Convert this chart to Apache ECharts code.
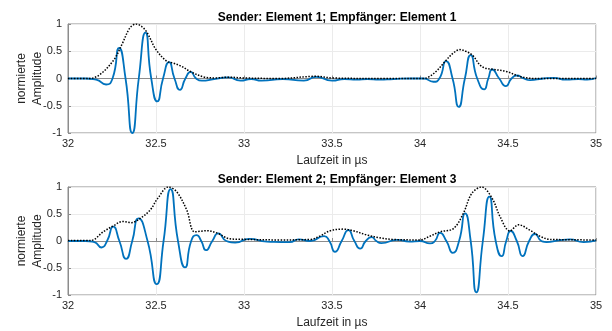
<!DOCTYPE html>
<html>
<head>
<meta charset="utf-8">
<script src="https://cdn.jsdelivr.net/npm/echarts@6/dist/echarts.min.js"></script>
<style>
body{margin:0;background:#fff}
#chart{width:612px;height:331px}
</style>
</head>
<body>
<div id="chart"></div>
<script>
var titles = ['Sender: Element 1; Empfänger: Element 1', 'Sender: Element 2; Empfänger: Element 3'];
var xName = 'Laufzeit in µs';
var yName = 'normierte\nAmplitude';

// oben: Signal (blau) und Einhüllende (schwarz gepunktet)
var signal1 = [[32,0],[32.10,0],[32.16,-0.02],[32.216,-0.11],[32.253,0],[32.29,0.56],[32.327,0],[32.365,-1.0],[32.402,0],
    [32.44,0.84],[32.473,0],[32.507,-0.42],[32.54,0],[32.574,0.30],[32.605,0],[32.636,-0.21],[32.667,0],[32.697,0.12],
    [32.728,0],[32.76,-0.04],[32.83,-0.01],[32.91,0.02],[32.98,-0.04],[33.04,-0.01],
    [33.10,-0.04],[33.22,-0.01],[33.34,-0.04],[33.41,0.03],[33.50,-0.04],[33.57,-0.01],[33.64,-0.02],[33.70,-0.01],
    [33.77,-0.02],[33.85,-0.01],[33.95,0],[34.02,0],[34.076,-0.06],[34.11,0],[34.148,0.32],[34.185,0],[34.22,-0.52],
    [34.255,0],[34.288,0.43],[34.325,0],[34.364,-0.20],[34.388,0],[34.41,0.165],[34.45,0],[34.487,-0.14],[34.52,0],
    [34.55,0.055],[34.59,0],[34.625,-0.03],[34.70,0],[34.76,0.01],[34.83,-0.02],
    [34.90,-0.01],[34.95,-0.02],[35,0.01]];
var envelope1 = [[32,0],[32.12,0],[32.18,0.07],[32.26,0.34],[32.31,0.65],[32.35,0.92],[32.386,1.0],[32.42,0.95],
    [32.45,0.84],[32.50,0.53],[32.56,0.32],[32.60,0.28],[32.64,0.23],[32.70,0.12],[32.77,0.03],[32.84,0.01],
    [32.91,0.025],[33.0,0.01],[33.2,0],[33.41,0.04],[33.5,0.01],[33.8,0],[34.02,0],[34.05,0.03],[34.095,0.14],
    [34.15,0.34],[34.19,0.47],[34.227,0.53],[34.26,0.50],[34.30,0.42],[34.34,0.25],[34.37,0.19],[34.41,0.17],
    [34.49,0.13],[34.57,0.035],[34.65,0],[35,0]];

// unten
var signal2 = [[32,0],[32.10,0],[32.15,-0.02],[32.19,-0.12],[32.222,0],[32.257,0.265],[32.292,0],[32.33,-0.33],[32.365,0],
    [32.40,0.42],[32.452,0],[32.504,-0.80],[32.543,0],[32.583,0.96],[32.625,0],[32.665,-0.49],[32.70,0],[32.73,0.11],
    [32.757,0],[32.784,-0.17],[32.82,0],[32.854,0.14],[32.90,0],[32.95,-0.03],[33.03,0.04],[33.13,-0.01],
    [33.26,-0.02],[33.31,0.03],[33.375,0],[33.455,0.09],[33.485,0],[33.517,-0.20],[33.555,0],[33.593,0.20],[33.627,0],
    [33.66,-0.14],[33.692,0],[33.725,0.07],[33.752,0],[33.78,-0.04],[33.87,0.02],[33.94,-0.01],[34.0,0],[34.057,-0.045],
    [34.085,0],[34.114,0.15],[34.15,0],[34.186,-0.22],[34.222,0],[34.256,0.51],[34.288,0],[34.32,-0.95],[34.357,0],
    [34.394,0.82],[34.43,0],[34.464,-0.28],[34.49,0],[34.515,0.185],[34.55,0],[34.583,-0.28],[34.62,0],[34.653,0.13],
    [34.69,0],[34.72,-0.02],[34.786,0.01],[34.85,0.03],[34.93,-0.02],[35,0.01]];
var envelope2 = [[32,0.01],[32.13,0.01],[32.20,0.17],[32.257,0.28],[32.31,0.36],[32.36,0.34],[32.41,0.42],[32.466,0.57],
    [32.51,0.79],[32.57,1.0],[32.618,0.91],[32.675,0.57],[32.72,0.17],[32.79,0.19],[32.845,0.15],[32.92,0.04],
    [33.0,0.03],[33.2,0.02],[33.38,0.03],[33.43,0.09],[33.49,0.19],[33.564,0.22],[33.62,0.19],[33.70,0.11],
    [33.77,0.06],[33.84,0.03],[34.0,0.02],[34.057,0.09],[34.114,0.17],[34.19,0.23],[34.246,0.51],[34.294,0.88],
    [34.35,1.0],[34.41,0.79],[34.455,0.45],[34.51,0.185],[34.56,0.30],[34.625,0.20],[34.68,0.09],[34.74,0.03],[35,0.02]];

var font = 'Liberation Sans, Arial, sans-serif';
var txt = '#262626';
var grids = [{left: 68, right: 16, top: 24, height: 109}, {left: 68, right: 16, top: 187, height: 108}];

function xAxisFor(i){
    return {
        type: 'value', gridIndex: i, min: 32, max: 35, interval: 0.5,
        name: xName, nameLocation: 'middle', nameGap: 22,
        nameTextStyle: {color: txt, fontFamily: font, fontSize: 12},
        axisLine: {lineStyle: {color: '#8c8c8c'}},
        axisTick: {inside: true, length: 3, lineStyle: {color: '#8c8c8c'}},
        axisLabel: {color: txt, fontFamily: font, fontSize: 11, margin: 5},
        splitLine: {show: true, lineStyle: {color: '#ebebeb'}}
    }
}
function yAxisFor(i){
    return {
        type: 'value', gridIndex: i, min: -1, max: 1, interval: 0.5,
        name: yName, nameLocation: 'middle', nameGap: 22, nameMoveOverlap: false,
        nameTextStyle: {color: txt, fontFamily: font, fontSize: 12, lineHeight: 16},
        axisLine: {show: true, lineStyle: {color: '#8c8c8c'}},
        axisTick: {inside: true, length: 3, lineStyle: {color: '#8c8c8c'}},
        axisLabel: {color: txt, fontFamily: font, fontSize: 11, margin: 6},
        splitLine: {show: true, lineStyle: {color: '#ebebeb'}}
    }
}
function blue(i, d){
    return {type: 'line', xAxisIndex: i, yAxisIndex: i, data: d, smooth: 0.6, showSymbol: false,
        lineStyle: {color: '#0072BD', width: 1.8}, z: 2}
}
function dots(i, d){
    return {type: 'line', xAxisIndex: i, yAxisIndex: i, data: d, smooth: 0.35, showSymbol: false,
        lineStyle: {color: '#000', width: 1.5, type: 'dotted'}, z: 3}
}

var option = {
    animation: false,
    title: [
        {text: titles[0], left: 332, top: 7, textAlign: 'center', textStyle: {fontFamily: font, fontSize: 12, fontWeight: 'bold', color: '#000'}},
        {text: titles[1], left: 332, top: 169, textAlign: 'center', textStyle: {fontFamily: font, fontSize: 12, fontWeight: 'bold', color: '#000'}}
    ],
    grid: [
        Object.assign({show: true, borderColor: '#8c8c8c', borderWidth: 1}, grids[0]),
        Object.assign({show: true, borderColor: '#8c8c8c', borderWidth: 1}, grids[1])
    ],
    xAxis: [xAxisFor(0), xAxisFor(1)],
    yAxis: [yAxisFor(0), yAxisFor(1)],
    series: [blue(0, signal1), dots(0, envelope1), blue(1, signal2), dots(1, envelope2)]
};

var chart = echarts.init(document.getElementById('chart'));
chart.setOption(option);
</script>
</body>
</html>
